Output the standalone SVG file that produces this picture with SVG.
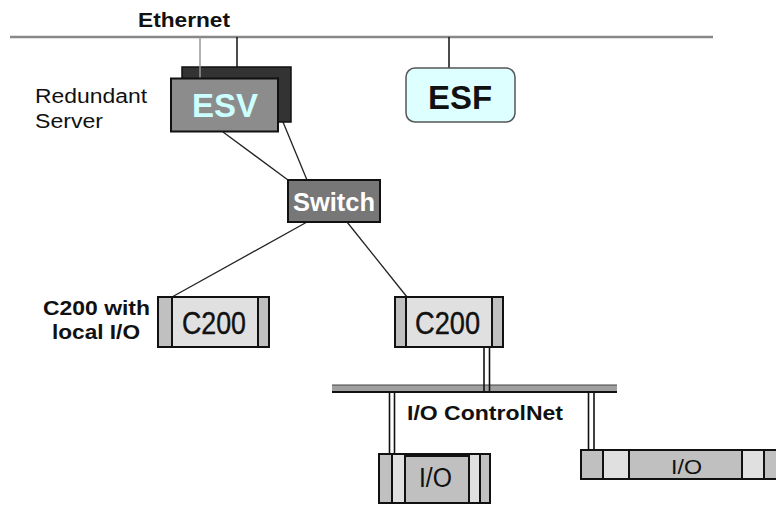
<svg xmlns="http://www.w3.org/2000/svg" width="776" height="506" viewBox="0 0 776 506">
<style>
  text { font-family: "Liberation Sans", Arial, sans-serif; fill: #111; }
  .b { font-weight: bold; }
  .box { stroke: #111; stroke-width: 2; }
  .dk { fill: #c0c0c0; }
  .lt { fill: #e0e0e0; }
  .ln { stroke: #222; stroke-width: 1.3; fill: none; }
  .dbl { stroke: #111; stroke-width: 1.6; }
</style>
<rect width="776" height="506" fill="#ffffff"/>
<g id="connectors">
  <line x1="10" y1="37" x2="713" y2="37" stroke="#888" stroke-width="2.5"/>
  <line x1="237" y1="37" x2="237" y2="67" stroke="#111" stroke-width="1.5"/>
  <line x1="449" y1="37" x2="449" y2="68" stroke="#111" stroke-width="1.5"/>
  <line class="ln" x1="223" y1="132" x2="288" y2="180"/>
  <line class="ln" x1="283" y1="122" x2="307" y2="180"/>
  <line class="ln" x1="307" y1="222" x2="172" y2="297"/>
  <line class="ln" x1="347" y1="222" x2="407" y2="297"/>
  <rect x="332" y="385" width="285" height="7" fill="#a0a0a0"/>
  <line x1="332" y1="385" x2="617" y2="385" stroke="#444" stroke-width="1.2"/>
  <line x1="332" y1="392" x2="617" y2="392" stroke="#111" stroke-width="1.8"/>
  <line class="dbl" x1="484" y1="347" x2="484" y2="392"/>
  <line class="dbl" x1="489.5" y1="347" x2="489.5" y2="392"/>
  <line class="dbl" x1="389.5" y1="392" x2="389.5" y2="454"/>
  <line class="dbl" x1="394.5" y1="392" x2="394.5" y2="454"/>
  <line class="dbl" x1="588.5" y1="392" x2="588.5" y2="450"/>
  <line class="dbl" x1="594" y1="392" x2="594" y2="450"/>
</g>
<g id="ethernet-label">
  <text class="b" x="138" y="27" font-size="19.5" textLength="92" lengthAdjust="spacingAndGlyphs">Ethernet</text>
</g>
<g id="esv">
  <rect x="182" y="67" width="109" height="55" fill="#333333" stroke="#111" stroke-width="1.5"/>
  <line x1="200" y1="37" x2="200" y2="78" stroke="#999" stroke-width="1.5"/>
  <rect x="171" y="78.5" width="107" height="53" fill="#8c8c8c" class="box"/>
  <text class="b" x="192" y="117" font-size="34" textLength="66" lengthAdjust="spacingAndGlyphs" style="fill:#ccffff">ESV</text>
  <text x="35" y="103" font-size="20" textLength="112" lengthAdjust="spacingAndGlyphs">Redundant</text>
  <text x="35" y="128" font-size="20" textLength="68" lengthAdjust="spacingAndGlyphs">Server</text>
</g>
<g id="esf">
  <rect x="406" y="68" width="109" height="54" rx="9" fill="#ddffff" stroke="#555" stroke-width="1.5"/>
  <text class="b" x="428" y="109" font-size="34" textLength="64" lengthAdjust="spacingAndGlyphs">ESF</text>
</g>
<g id="switch">
  <rect x="288" y="180" width="92" height="42" fill="#777777" class="box"/>
  <text class="b" x="293" y="211" font-size="26" textLength="82" lengthAdjust="spacingAndGlyphs" style="fill:#ffffff">Switch</text>
</g>
<g id="c200-local">
  <rect x="158" y="297" width="111" height="50" class="lt"/>
  <rect x="158" y="297" width="14" height="50" class="dk"/>
  <rect x="258" y="297" width="11" height="50" class="dk"/>
  <rect x="158" y="297" width="111" height="50" fill="none" class="box"/>
  <line x1="172" y1="297" x2="172" y2="347" stroke="#111" stroke-width="2"/>
  <line x1="258" y1="297" x2="258" y2="347" stroke="#111" stroke-width="2"/>
  <text x="182" y="334" font-size="32" textLength="64" lengthAdjust="spacingAndGlyphs" stroke="#111" stroke-width="0.4">C200</text>
  <text class="b" x="43" y="315" font-size="19.5" textLength="107" lengthAdjust="spacingAndGlyphs">C200 with</text>
  <text class="b" x="52" y="339" font-size="19.5" textLength="88" lengthAdjust="spacingAndGlyphs">local I/O</text>
</g>
<g id="c200">
  <rect x="395" y="297" width="108" height="50" class="lt"/>
  <rect x="395" y="297" width="11" height="50" class="dk"/>
  <rect x="492" y="297" width="11" height="50" class="dk"/>
  <rect x="395" y="297" width="108" height="50" fill="none" class="box"/>
  <line x1="406" y1="297" x2="406" y2="347" stroke="#111" stroke-width="2"/>
  <line x1="492" y1="297" x2="492" y2="347" stroke="#111" stroke-width="2"/>
  <text x="415" y="334" font-size="32" textLength="65" lengthAdjust="spacingAndGlyphs" stroke="#111" stroke-width="0.4">C200</text>
</g>
<g id="controlnet-label">
  <text class="b" x="407" y="420" font-size="20" textLength="156" lengthAdjust="spacingAndGlyphs">I/O ControlNet</text>
</g>
<g id="io-left">
  <rect x="379" y="454" width="111" height="49" class="dk"/>
  <rect x="392" y="454" width="13" height="49" class="lt"/>
  <rect x="469" y="454" width="11" height="49" class="lt"/>
  <rect x="379" y="454" width="111" height="49" fill="none" class="box"/>
  <line x1="392" y1="454" x2="392" y2="503" stroke="#111" stroke-width="2"/>
  <line x1="405" y1="454" x2="405" y2="503" stroke="#111" stroke-width="2"/>
  <line x1="469" y1="454" x2="469" y2="503" stroke="#111" stroke-width="2"/>
  <line x1="480" y1="454" x2="480" y2="503" stroke="#111" stroke-width="2"/>
  <line x1="405" y1="456" x2="469" y2="456" stroke="#111" stroke-width="2"/>
  <text x="419" y="487" font-size="27" textLength="33" lengthAdjust="spacingAndGlyphs">I/O</text>
</g>
<g id="io-right">
  <rect x="581" y="450" width="197" height="29" class="dk"/>
  <rect x="603" y="450" width="26" height="29" class="lt"/>
  <rect x="742" y="450" width="22" height="29" class="lt"/>
  <rect x="581" y="450" width="197" height="29" fill="none" class="box"/>
  <line x1="603" y1="450" x2="603" y2="479" stroke="#111" stroke-width="2"/>
  <line x1="629" y1="450" x2="629" y2="479" stroke="#111" stroke-width="2"/>
  <line x1="742" y1="450" x2="742" y2="479" stroke="#111" stroke-width="2"/>
  <line x1="764" y1="450" x2="764" y2="479" stroke="#111" stroke-width="2"/>
  <text x="671" y="474" font-size="21" textLength="31" lengthAdjust="spacingAndGlyphs">I/O</text>
</g>
</svg>
